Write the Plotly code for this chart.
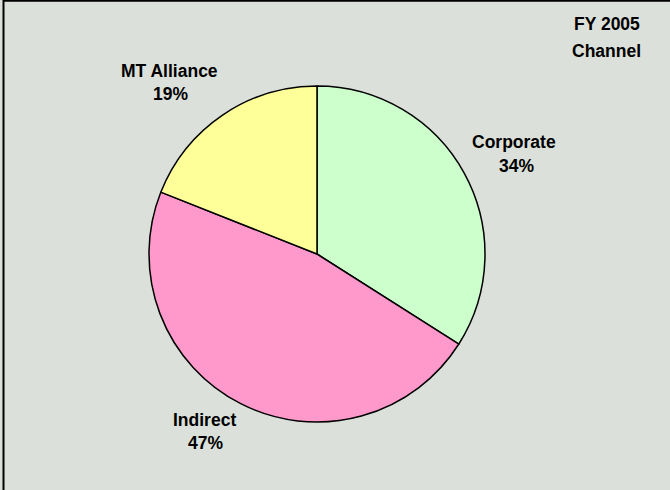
import plotly.graph_objects as go

# Channel mix for FY 2005
channels = ["Corporate", "Indirect", "MT Alliance"]
shares = [34, 47, 19]
slice_colors = ["#CCFFCC", "#FF99CC", "#FFFF99"]
title_lines = ["FY 2005", "Channel"]

W, H = 670, 490
BG = "#DCE0DA"
FONT = dict(family="Liberation Sans, Arial, sans-serif", size=17.5, color="#000000")


def px(x):
    return x / W


def py(y):
    return 1 - y / H


# Pie placement in pixels: centre and radius
cx, cy, r = 317, 254, 168

fig = go.Figure(
    go.Pie(
        labels=channels,
        values=shares,
        sort=False,
        direction="clockwise",
        rotation=0,
        textinfo="none",
        hoverinfo="label+percent",
        marker=dict(colors=slice_colors, line=dict(color="#000000", width=1.5)),
        domain=dict(x=[px(cx - r), px(cx + r)], y=[py(cy + r), py(cy - r)]),
        showlegend=False,
    )
)

# Label anchor points (pixel centres of the name line and the percent line)
label_pos = {
    "Corporate": ((514, 142), (516, 166)),
    "Indirect": ((204, 420), (205, 443)),
    "MT Alliance": ((169, 71), (170, 94)),
}

annotations = []
for name, val in zip(channels, shares):
    (nx, ny), (vx, vy) = label_pos[name]
    annotations.append(dict(x=px(nx), y=py(ny), text=f"<b>{name}</b>"))
    annotations.append(dict(x=px(vx), y=py(vy), text=f"<b>{val}%</b>"))

for line, (tx, ty) in zip(title_lines, [(607, 24), (606, 51)]):
    annotations.append(dict(x=px(tx), y=py(ty), text=f"<b>{line}</b>"))

for a in annotations:
    a.update(xref="paper", yref="paper", xanchor="center", yanchor="middle",
             showarrow=False, font=FONT)

# Frame lines along the left and top edges
shapes = [
    dict(type="line", xref="paper", yref="paper", x0=px(3.5), x1=px(3.5), y0=0, y1=1,
         line=dict(color="#000000", width=2)),
    dict(type="line", xref="paper", yref="paper", x0=px(3), x1=1, y0=py(0.8), y1=py(0.8),
         line=dict(color="#000000", width=2)),
]

fig.update_layout(
    width=W,
    height=H,
    margin=dict(l=0, r=0, t=0, b=0),
    paper_bgcolor=BG,
    plot_bgcolor=BG,
    annotations=annotations,
    shapes=shapes,
)

fig.write_html("out.html")
